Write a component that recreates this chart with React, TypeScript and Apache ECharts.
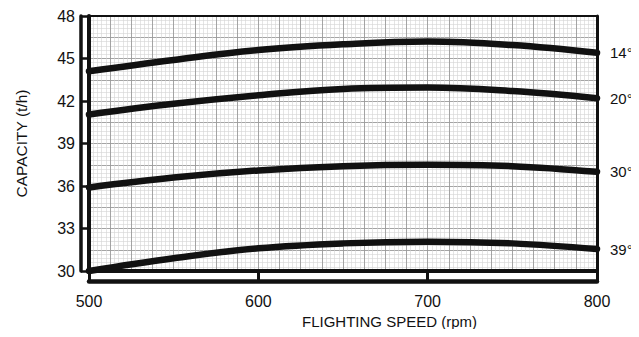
import React, { useEffect, useRef } from "react";
import * as echarts from "echarts";

const speeds = [500, 550, 600, 650, 700, 750, 800];
const cap14 = [44.1, 44.9, 45.6, 46.0, 46.2, 45.95, 45.4];
const cap20 = [41.05, 41.8, 42.4, 42.85, 42.95, 42.7, 42.2];
const cap30 = [35.9, 36.6, 37.1, 37.4, 37.5, 37.4, 37.0];
const cap39 = [30.0, 30.9, 31.6, 31.95, 32.07, 31.95, 31.55];
const angleLabels = ["14°", "20°", "30°", "39°"];
const seriesValues = [cap14, cap20, cap30, cap39];

const FONT = "'Liberation Sans', Arial, Helvetica, sans-serif";
const INK = "#111";

export default function App() {
  const ref = useRef<HTMLDivElement>(null);
  useEffect(() => {
    if (!ref.current) return;
    const chart = echarts.init(ref.current, undefined, { renderer: "svg" });
    const lineSeries = seriesValues.map((vals, i) => ({
      type: "line",
      name: angleLabels[i],
      xAxisIndex: 0,
      yAxisIndex: 0,
      smooth: 0.4,
      showSymbol: false,
      symbol: "none",
      data: speeds.map((s, j) => [s, vals[j]]),
      lineStyle: { color: INK, width: 6.5, cap: "round" },
      endLabel: {
        show: true,
        formatter: angleLabels[i],
        color: INK,
        fontFamily: FONT,
        fontSize: 15,
        distance: 13,
      },
      z: 5,
    }));
    chart.setOption({
      animation: false,
      backgroundColor: "#fff",
      grid: { left: 89, right: 42, top: 16, bottom: 66 },
      xAxis: [
        {
          type: "value", position: "bottom", min: 500, max: 800, interval: 100,
          axisLine: { show: true, lineStyle: { color: INK, width: 4 } },
          axisTick: { show: false }, axisLabel: { show: false }, splitLine: { show: false },
        },
        {
          type: "value", position: "bottom", offset: 10, min: 500, max: 800, interval: 100,
          axisLine: { show: true, lineStyle: { color: INK, width: 4.5 } },
          axisTick: { show: true, inside: true, length: 10, lineStyle: { color: INK, width: 3 } },
          axisLabel: { show: true, margin: 12, color: INK, fontSize: 16, fontFamily: FONT },
          splitLine: { show: false },
          name: "FLIGHTING SPEED (rpm)",
          nameLocation: "middle",
          nameGap: 33,
          nameTextStyle: { color: INK, fontSize: 15, fontFamily: FONT, padding: [0, 0, 0, 93] },
        },
        {
          type: "value", position: "bottom", min: 500, max: 800, interval: 12.5,
          axisLine: { show: false }, axisTick: { show: false }, axisLabel: { show: false },
          splitLine: { show: true, lineStyle: { color: "#9a9a9a", width: 0.9 } },
          minorTick: { show: false, splitNumber: 5 },
          minorSplitLine: { show: true, lineStyle: { color: "#d4d4d4", width: 0.6 } },
        },
        {
          type: "value", position: "top", min: 500, max: 800,
          axisLine: { show: true, lineStyle: { color: INK, width: 2 } },
          axisTick: { show: false }, axisLabel: { show: false }, splitLine: { show: false },
        },
      ],
      yAxis: [
        {
          type: "value", position: "left", min: 30, max: 48, interval: 3,
          axisLine: { show: true, lineStyle: { color: INK, width: 4 } },
          axisTick: { show: false }, axisLabel: { show: false }, splitLine: { show: false },
        },
        {
          type: "value", position: "left", offset: 8, min: 30, max: 48, interval: 3,
          axisLine: { show: true, lineStyle: { color: INK, width: 3.5 } },
          axisTick: { show: true, inside: true, length: 8, lineStyle: { color: INK, width: 2.5 } },
          axisLabel: { show: true, margin: 6, color: INK, fontSize: 16, fontFamily: FONT },
          splitLine: { show: false },
          name: "CAPACITY (t/h)",
          nameLocation: "middle",
          nameGap: 52,
          nameRotate: 90,
          nameTextStyle: { color: INK, fontSize: 15.5, fontFamily: FONT },
        },
        {
          type: "value", position: "left", min: 30, max: 48, interval: 1.5,
          axisLine: { show: false }, axisTick: { show: false }, axisLabel: { show: false },
          splitLine: { show: true, lineStyle: { color: "#9a9a9a", width: 0.9 } },
          minorTick: { show: false, splitNumber: 5 },
          minorSplitLine: { show: true, lineStyle: { color: "#d4d4d4", width: 0.6 } },
        },
        {
          type: "value", position: "right", min: 30, max: 48,
          axisLine: { show: true, lineStyle: { color: INK, width: 3 } },
          axisTick: { show: false }, axisLabel: { show: false }, splitLine: { show: false },
        },
      ],
      series: lineSeries,
    });
    return () => {
      chart.dispose();
    };
  }, []);
  return <div ref={ref} style={{ width: 639, height: 337, margin: -8 }} />;
}
